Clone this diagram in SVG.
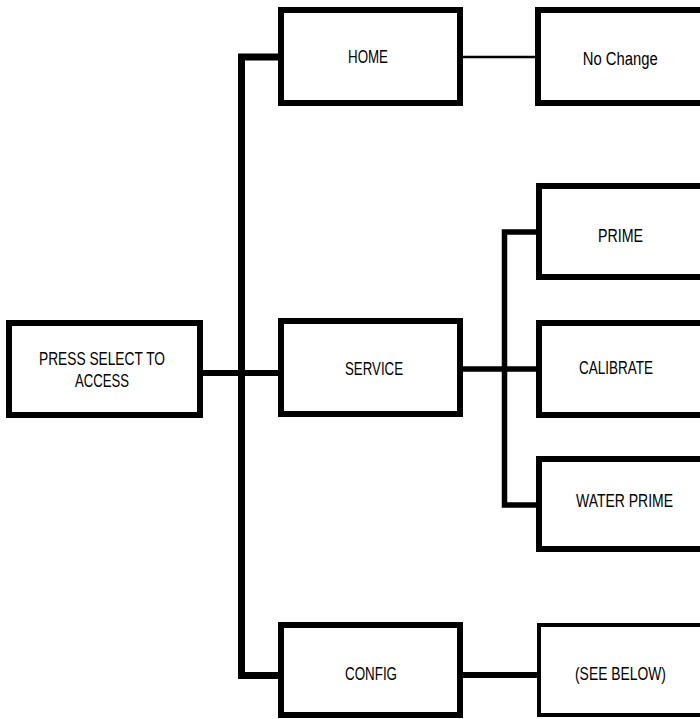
<svg xmlns="http://www.w3.org/2000/svg" width="700" height="719" viewBox="0 0 700 719">
<style>
.box{fill:#fff;stroke:#000;stroke-width:6}
.thin{fill:#fff;stroke:#000;stroke-width:4}
.lbl{font-family:"Liberation Sans",Arial,sans-serif;font-size:18px;fill:#000}
.c{fill:none;stroke:#000;stroke-linejoin:miter;stroke-linecap:butt}
</style>
<rect width="700" height="719" fill="#fff"/>
<g id="connectors">
<path class="c" d="M281 57 H241.5 V675.5 H281" stroke-width="7"/>
<path class="c" d="M200 373 H281" stroke-width="6"/>
<path class="c" d="M460 57 H538" stroke-width="2.5"/>
<path class="c" d="M460 369 H539" stroke-width="5.5"/>
<path class="c" d="M539 232 H504.5 V505 H539" stroke-width="5.5"/>
<path class="c" d="M460 675 H539" stroke-width="6"/>
</g>
<g id="node-press">
<rect class="box" x="9" y="323" width="191" height="92"/>
<text class="lbl" x="39" y="365" textLength="126" lengthAdjust="spacingAndGlyphs">PRESS SELECT TO</text>
<text class="lbl" x="75" y="386.5" textLength="54" lengthAdjust="spacingAndGlyphs">ACCESS</text>
</g>
<g id="node-home">
<rect class="box" x="281" y="10" width="179" height="93"/>
<text class="lbl" x="348" y="62.7" textLength="40" lengthAdjust="spacingAndGlyphs">HOME</text>
</g>
<g id="node-nochange">
<rect class="box" x="538" y="10" width="200" height="93"/>
<text class="lbl" x="582.7" y="65" textLength="75" lengthAdjust="spacingAndGlyphs">No Change</text>
</g>
<g id="node-service">
<rect class="box" x="281" y="321" width="179" height="93"/>
<text class="lbl" x="345" y="375" textLength="58" lengthAdjust="spacingAndGlyphs">SERVICE</text>
</g>
<g id="node-prime">
<rect class="box" x="539" y="186" width="200" height="91"/>
<text class="lbl" x="598" y="241.7" textLength="45" lengthAdjust="spacingAndGlyphs">PRIME</text>
</g>
<g id="node-calibrate">
<rect class="box" x="539" y="323" width="200" height="92"/>
<text class="lbl" x="579" y="374.3" textLength="74" lengthAdjust="spacingAndGlyphs">CALIBRATE</text>
</g>
<g id="node-waterprime">
<rect class="box" x="539" y="459" width="200" height="90"/>
<text class="lbl" x="576" y="506.7" textLength="97" lengthAdjust="spacingAndGlyphs">WATER PRIME</text>
</g>
<g id="node-config">
<rect class="box" x="281" y="625" width="179" height="90"/>
<text class="lbl" x="345" y="680" textLength="52" lengthAdjust="spacingAndGlyphs">CONFIG</text>
</g>
<g id="node-seebelow">
<rect class="thin" x="539" y="625" width="200" height="90"/>
<text class="lbl" x="575" y="680" textLength="91" lengthAdjust="spacingAndGlyphs">(SEE BELOW)</text>
</g>
</svg>
